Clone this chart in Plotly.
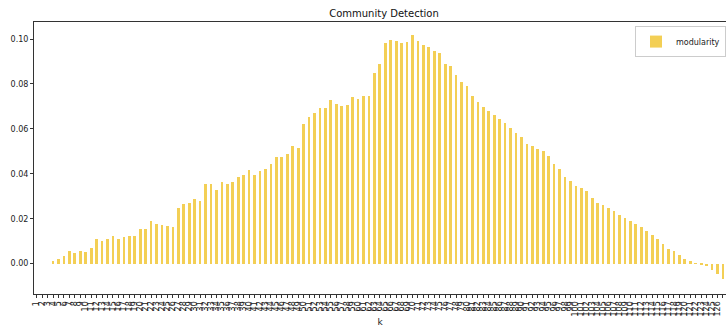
import plotly.graph_objects as go

# number of communities k and the modularity score obtained for each
k_values = list(range(1, 129))
modularity = [
    0.0, 0.0, 0.0, 0.0013, 0.0022, 0.0034, 0.0055, 0.0049, 0.0058, 0.0052,
    0.0068, 0.0108, 0.0102, 0.0108, 0.0123, 0.0110, 0.0120, 0.0123, 0.0123, 0.0156,
    0.0153, 0.0188, 0.0175, 0.0171, 0.0166, 0.0163, 0.0246, 0.0264, 0.0270, 0.0286,
    0.0277, 0.0353, 0.0356, 0.0329, 0.0362, 0.0353, 0.0362, 0.0386, 0.0393, 0.0415,
    0.0396, 0.0414, 0.0423, 0.0444, 0.0475, 0.0476, 0.0490, 0.0524, 0.0516, 0.0620,
    0.0653, 0.0669, 0.0691, 0.0694, 0.0727, 0.0712, 0.0700, 0.0705, 0.0740, 0.0733,
    0.0745, 0.0746, 0.0851, 0.0889, 0.0982, 0.0998, 0.0991, 0.0982, 0.0987, 0.1019,
    0.0991, 0.0975, 0.0963, 0.0946, 0.0936, 0.0889, 0.0878, 0.0841, 0.0807, 0.0792,
    0.0745, 0.0719, 0.0697, 0.0679, 0.0662, 0.0645, 0.0625, 0.0604, 0.0584, 0.0564,
    0.0533, 0.0522, 0.0512, 0.0501, 0.0478, 0.0444, 0.0420, 0.0386, 0.0366, 0.0347,
    0.0335, 0.0323, 0.0291, 0.0270, 0.0261, 0.0246, 0.0236, 0.0217, 0.0205, 0.0188,
    0.0175, 0.0165, 0.0147, 0.0129, 0.0108, 0.0086, 0.0067, 0.0056, 0.0037, 0.0021,
    0.0010, 0.0002, -0.0004, -0.0010, -0.0030, -0.0045, -0.0067, -0.0080,
]
y_ticks = [0.00, 0.02, 0.04, 0.06, 0.08, 0.10]

BAR_COLOR = "#f3cf55"
AXIS_COLOR = "#333333"
TEXT_COLOR = "#222222"
FONT = "DejaVu Sans"

fig = go.Figure(
    go.Bar(
        x=k_values,
        y=modularity,
        width=0.5,
        name="modularity",
        marker=dict(color=BAR_COLOR, line=dict(width=0)),
        showlegend=True,
    )
)

fig.update_layout(
    width=726,
    height=329,
    margin=dict(l=34, r=0, t=22, b=35),
    paper_bgcolor="white",
    plot_bgcolor="white",
    font=dict(family=FONT, size=8, color=TEXT_COLOR),
    title=dict(
        text="Community Detection",
        x=384 / 726,
        xanchor="center",
        y=1 - 13 / 329,
        yanchor="middle",
        font=dict(family=FONT, size=10, color="#111111"),
    ),
    legend=dict(
        x=1.0,
        xanchor="right",
        y=0.985,
        yanchor="top",
        bordercolor="#cccccc",
        borderwidth=1,
        bgcolor="rgba(255,255,255,0.8)",
        font=dict(family=FONT, size=8, color=TEXT_COLOR),
        itemwidth=30,
        tracegroupgap=0,
    ),
    bargap=0,
)

fig.update_xaxes(
    range=[0.5, 127.56],
    tickmode="array",
    tickvals=k_values,
    ticktext=[str(k) for k in k_values],
    tickangle=-90,
    tickfont=dict(family=FONT, size=8, color=TEXT_COLOR),
    ticks="outside",
    ticklen=3,
    tickwidth=0.8,
    tickcolor=AXIS_COLOR,
    showline=True,
    linecolor=AXIS_COLOR,
    linewidth=1,
    mirror=True,
    showgrid=False,
    zeroline=False,
    title=dict(text="k", font=dict(family=FONT, size=9, color=TEXT_COLOR), standoff=3),
)

fig.update_yaxes(
    range=[-0.0135, 0.1076],
    tickmode="array",
    tickvals=y_ticks,
    ticktext=[f"{v:.2f}" for v in y_ticks],
    ticks="outside",
    ticklen=3,
    tickwidth=0.8,
    tickcolor=AXIS_COLOR,
    tickfont=dict(family=FONT, size=8, color=TEXT_COLOR),
    showline=True,
    linecolor=AXIS_COLOR,
    linewidth=1,
    mirror=False,
    showgrid=False,
    zeroline=False,
)

fig.write_html("out.html")
